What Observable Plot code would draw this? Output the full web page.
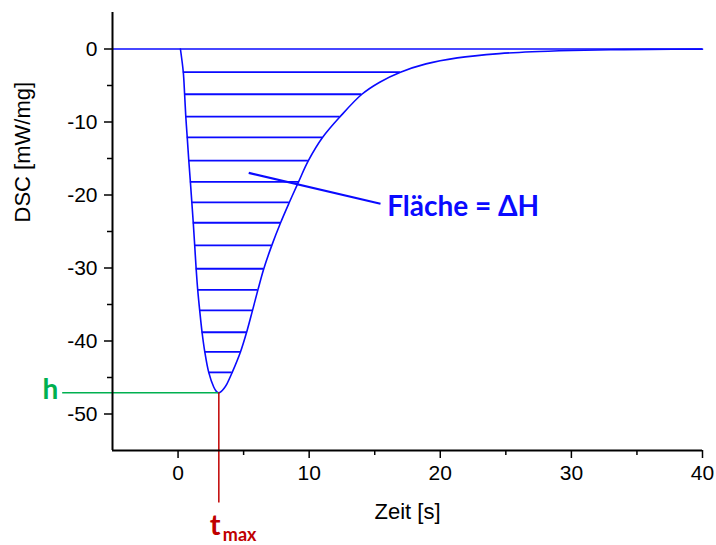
<!DOCTYPE html>
<html><head><meta charset="utf-8">
<script src="https://cdn.jsdelivr.net/npm/d3@7"></script>
<script src="https://cdn.jsdelivr.net/npm/@observablehq/plot@0.6"></script>
<style>body{margin:0;background:#fff;} svg{display:block}</style>
</head><body><div id="chart"></div>
<script>
// Curve: time [s] and DSC [mW/mg]
const time = [0.18, 0.40, 0.50, 0.59, 0.70, 0.82, 0.94, 1.05, 1.16, 1.27, 1.38, 1.50, 1.65, 1.83, 2.04, 2.34, 2.72, 2.92, 3.11,
              3.30, 3.50, 3.72, 4.13, 4.76, 5.23, 5.68, 6.09, 6.54, 7.15, 7.82, 8.49, 9.19, 9.94, 11.03, 12.37, 14.02, 15.38,
              16.96, 18.91, 21.3, 24.5, 27, 30, 33, 36, 40];
const dsc  = [0, -3.18, -6.2, -9.25, -12.1, -15.3, -18.2, -21.0, -23.8, -26.9, -30.1, -33.0, -35.8, -38.8, -41.5, -44.3, -46.3, -46.9, -47.1,
              -46.9, -46.5, -45.9, -44.3, -41.5, -38.8, -35.8, -33.0, -30.1, -26.9, -23.8, -21.0, -18.2, -15.3, -12.1, -9.25, -6.2, -4.55,
              -3.18, -2.04, -1.22, -0.63, -0.37, -0.2, -0.1, -0.05, -0.02];
// hatch levels of the area
const hatchLevels = [-3.18, -6.2, -9.25, -12.1, -15.3, -18.2, -21.0, -23.8, -26.9, -30.1, -33.0, -35.8, -38.8, -41.5, -44.3];
const xTicks = [0, 10, 20, 30, 40];
const xMinorTicks = [5, 15, 25, 35];
const yTicks = [0, -10, -20, -30, -40, -50];
const yMinorTicks = [-5, -15, -25, -35, -45];
const xLabel = "Zeit [s]";
const yLabel = "DSC [mW/mg]";
const areaLabel = "Fläche = ΔH";
const hLabel = "h";
const tLabel = "t";
const tSubLabel = "max";

const blue = "#0a0aff", green = "#00b050", red = "#c00000";

const points = time.map((t, i) => ({t, v: dsc[i]}));
const iMin = d3.minIndex(dsc);
const tMax = time[iMin], hVal = dsc[iMin];
function cross(pts, level) {
  for (let i = 0; i < pts.length - 1; i++) {
    const a = pts[i], b = pts[i + 1];
    if ((a.v - level) * (b.v - level) <= 0 && a.v !== b.v) return a.t + (level - a.v) * (b.t - a.t) / (b.v - a.v);
  }
  return NaN;
}
const leftBranch = points.slice(0, iMin + 1), rightBranch = points.slice(iMin);
const hatches = hatchLevels.map(v => ({v, t1: cross(leftBranch, v), t2: cross(rightBranch, v)}));

// annotation anchors (data units)
const leader = [{x1: 5.39, y1: -16.96, x2: 15.44, y2: -21.2}];
const labelPos = {x: 15.95, y: -21.6};
const xMin = -5, xMaxD = 40, yMin = -55, yMaxD = 5;

const font = "'Liberation Sans', Arial, sans-serif";
const annFont = "Lato, 'Noto Sans', sans-serif";

const chart = Plot.plot({
  width: 716, height: 545,
  marginLeft: 112, marginRight: 14, marginTop: 12, marginBottom: 95,
  x: {domain: [xMin, xMaxD], axis: null, label: null},
  y: {domain: [yMin, yMaxD], axis: null, label: null},
  style: {fontFamily: font, color: "black", background: "white", overflow: "visible"},
  marks: [
    Plot.ruleY([0], {x1: xMin, x2: xMaxD, stroke: blue, strokeWidth: 1.5}),
    Plot.ruleY(hatches, {y: "v", x1: "t1", x2: "t2", stroke: blue, strokeWidth: 1.8}),
    Plot.line(points, {x: "t", y: "v", stroke: blue, strokeWidth: 1.6, curve: "catmull-rom"}),
    Plot.ruleY([hVal], {x1: -8.8, x2: tMax, stroke: green, strokeWidth: 1.5}),
    Plot.ruleX([tMax], {y1: hVal, y2: -62.2, stroke: red, strokeWidth: 1.5}),
    // axes
    Plot.axisX({ticks: xTicks, tickSize: 8, tickPadding: 7, fontSize: 21, tickFormat: d => String(d), strokeWidth: 1.5, label: null}),
    Plot.axisX({ticks: xMinorTicks, tickSize: 5, tickFormat: () => "", strokeWidth: 1.5, label: null}),
    Plot.axisY({ticks: yTicks, tickSize: 8, tickPadding: 7, fontSize: 21, tickFormat: d => String(d), strokeWidth: 1.5, label: null}),
    Plot.axisY({ticks: yMinorTicks, tickSize: 5, tickFormat: () => "", strokeWidth: 1.5, label: null}),
    Plot.ruleY([yMin], {x1: xMin, x2: xMaxD, stroke: "black", strokeWidth: 2}),
    Plot.ruleX([xMin], {y1: yMin, y2: yMaxD, stroke: "black", strokeWidth: 2}),
    // axis titles
    Plot.text([xLabel], {frameAnchor: "bottom", dy: 68, lineAnchor: "bottom", fontSize: 22, fill: "black"}),
    Plot.text([yLabel], {frameAnchor: "left", dx: -90, dy: -9, rotate: -90, fontSize: 22, fill: "black"}),
    // annotations
    Plot.link(leader, {x1: "x1", y1: "y1", x2: "x2", y2: "y2", stroke: blue, strokeWidth: 2.2}),
    Plot.text([areaLabel], {x: labelPos.x, y: labelPos.y, textAnchor: "start", lineAnchor: "middle", fontSize: 28, fontWeight: "bold", fill: blue, fontFamily: annFont}),
    Plot.text([hLabel], {x: xMin, y: hVal, dx: -62, dy: 6, lineAnchor: "bottom", textAnchor: "middle", fontSize: 28, fontWeight: "bold", fill: green, fontFamily: annFont}),
    Plot.text([tLabel], {x: tMax, y: yMin, dx: -9, dy: 84, lineAnchor: "bottom", textAnchor: "start", fontSize: 29, fontWeight: "bold", fill: red, fontFamily: annFont}),
    Plot.text([tSubLabel], {x: tMax, y: yMin, dx: 4, dy: 90, lineAnchor: "bottom", textAnchor: "start", fontSize: 18, fontWeight: "bold", fill: red, fontFamily: annFont})
  ]
});
document.getElementById("chart").appendChild(chart);
</script>
</body></html>
